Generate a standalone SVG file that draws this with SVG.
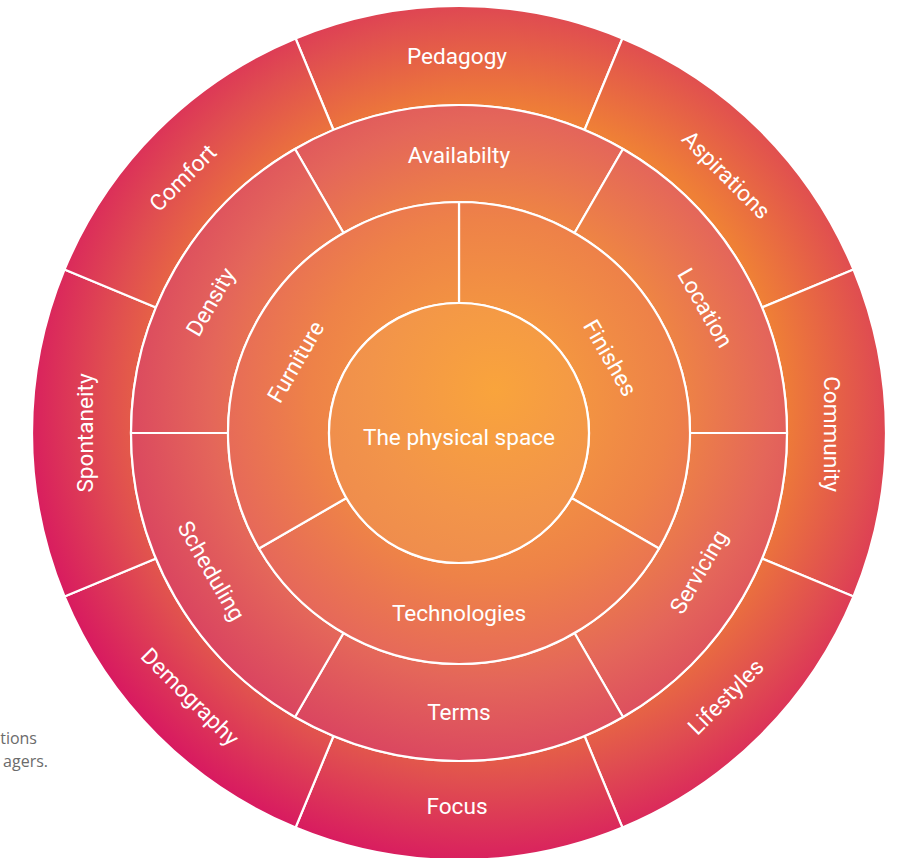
<svg xmlns="http://www.w3.org/2000/svg" width="898" height="858" viewBox="0 0 898 858">
<defs>
<radialGradient id="gOuter" gradientUnits="userSpaceOnUse" cx="490" cy="400" r="480">
<stop offset="0.6" stop-color="#EF8036"/>
<stop offset="0.8" stop-color="#E04E50"/>
<stop offset="0.98" stop-color="#D81A60"/>
</radialGradient>
<radialGradient id="gMiddle" gradientUnits="userSpaceOnUse" cx="490" cy="400" r="380">
<stop offset="0.45" stop-color="#F08A40"/>
<stop offset="0.74" stop-color="#E4665A"/>
<stop offset="0.98" stop-color="#DA4560"/>
</radialGradient>
<radialGradient id="gInner" gradientUnits="userSpaceOnUse" cx="490" cy="400" r="290">
<stop offset="0.25" stop-color="#F49840"/>
<stop offset="0.62" stop-color="#EE8248"/>
<stop offset="0.95" stop-color="#E6685A"/>
</radialGradient>
<radialGradient id="gCore" gradientUnits="userSpaceOnUse" cx="495" cy="390" r="210">
<stop offset="0" stop-color="#F9A43C"/>
<stop offset="0.6" stop-color="#F2944A"/>
<stop offset="1" stop-color="#EE8A4E"/>
</radialGradient>
</defs>
<style>
.seg{stroke:#FFFFFF;stroke-width:2.2;stroke-linejoin:round}
.o{fill:url(#gOuter)}
.m{fill:url(#gMiddle)}
.i{fill:url(#gInner)}
.c{fill:url(#gCore)}
.lbl{font-family:Roboto,"Liberation Sans",sans-serif;font-size:22.6px;fill:#FFFFFF;text-anchor:middle;dominant-baseline:central}
.note{font-family:"Open Sans","Liberation Sans",sans-serif;font-size:16px;fill:#6B6B6B;text-anchor:end}
</style>

<g id="outer-ring">
<g id="pedagogy"><path class="seg o" d="M295.60,38.50 A427,427 0 0 1 622.40,38.50 L584.52,129.97 A328,328 0 0 0 333.48,129.97 Z"/><text class="lbl" x="457" y="56">Pedagogy</text></g>
<g id="aspirations"><path class="seg o" d="M622.40,38.50 A427,427 0 0 1 853.50,269.60 L762.03,307.48 A328,328 0 0 0 584.52,129.97 Z"/><text class="lbl" transform="translate(726,175) rotate(45)">Aspirations</text></g>
<g id="community"><path class="seg o" d="M853.50,269.60 A427,427 0 0 1 853.50,596.40 L762.03,558.52 A328,328 0 0 0 762.03,307.48 Z"/><text class="lbl" transform="translate(831,434) rotate(90)">Community</text></g>
<g id="lifestyles"><path class="seg o" d="M853.50,596.40 A427,427 0 0 1 622.40,827.50 L584.52,736.03 A328,328 0 0 0 762.03,558.52 Z"/><text class="lbl" transform="translate(726,697) rotate(-45)">Lifestyles</text></g>
<g id="focus"><path class="seg o" d="M622.40,827.50 A427,427 0 0 1 295.60,827.50 L333.48,736.03 A328,328 0 0 0 584.52,736.03 Z"/><text class="lbl" x="457" y="806">Focus</text></g>
<g id="demography"><path class="seg o" d="M295.60,827.50 A427,427 0 0 1 64.50,596.40 L155.97,558.52 A328,328 0 0 0 333.48,736.03 Z"/><text class="lbl" transform="translate(190,697) rotate(45)">Demography</text></g>
<g id="spontaneity"><path class="seg o" d="M64.50,596.40 A427,427 0 0 1 64.50,269.60 L155.97,307.48 A328,328 0 0 0 155.97,558.52 Z"/><text class="lbl" transform="translate(85,433) rotate(-90)">Spontaneity</text></g>
<g id="comfort"><path class="seg o" d="M64.50,269.60 A427,427 0 0 1 295.60,38.50 L333.48,129.97 A328,328 0 0 0 155.97,307.48 Z"/><text class="lbl" transform="translate(183,178) rotate(-45)">Comfort</text></g>
</g>

<g id="middle-ring">
<g id="availability"><path class="seg m" d="M295,148.94 A328,328 0 0 1 623,148.94 L574.5,232.95 A231,231 0 0 0 343.5,232.95 Z"/><text class="lbl" x="459" y="155">Availabilty</text></g>
<g id="location"><path class="seg m" d="M623,148.94 A328,328 0 0 1 787,433 L690,433 A231,231 0 0 0 574.5,232.95 Z"/><text class="lbl" transform="translate(705,308) rotate(60)">Location</text></g>
<g id="servicing"><path class="seg m" d="M787,433 A328,328 0 0 1 623,717.06 L574.5,633.05 A231,231 0 0 0 690,433 Z"/><text class="lbl" transform="translate(699,572) rotate(-60)">Servicing</text></g>
<g id="terms"><path class="seg m" d="M623,717.06 A328,328 0 0 1 295,717.06 L343.5,633.05 A231,231 0 0 0 574.5,633.05 Z"/><text class="lbl" x="459" y="712">Terms</text></g>
<g id="scheduling"><path class="seg m" d="M295,717.06 A328,328 0 0 1 131,433 L228,433 A231,231 0 0 0 343.5,633.05 Z"/><text class="lbl" transform="translate(211,571) rotate(60)">Scheduling</text></g>
<g id="density"><path class="seg m" d="M131,433 A328,328 0 0 1 295,148.94 L343.5,232.95 A231,231 0 0 0 228,433 Z"/><text class="lbl" transform="translate(211,302) rotate(-60)">Density</text></g>
</g>

<g id="inner-ring">
<g id="finishes"><path class="seg i" d="M459,202 A231,231 0 0 1 659.05,548.5 L571.58,498 A130,130 0 0 0 459,303 Z"/><text class="lbl" transform="translate(610,358) rotate(60)">Finishes</text></g>
<g id="technologies"><path class="seg i" d="M659.05,548.5 A231,231 0 0 1 258.95,548.5 L346.42,498 A130,130 0 0 0 571.58,498 Z"/><text class="lbl" x="459" y="613">Technologies</text></g>
<g id="furniture"><path class="seg i" d="M258.95,548.5 A231,231 0 0 1 459,202 L459,303 A130,130 0 0 0 346.42,498 Z"/><text class="lbl" transform="translate(296,362) rotate(-60)">Furniture</text></g>
</g>

<g id="core">
<circle class="seg c" cx="459" cy="433" r="130"/>
<text class="lbl" x="459" y="437">The physical space</text>
</g>

<g id="connectors"/>

<g id="side-note">
<text class="note" x="37" y="744">tions</text>
<text class="note" x="48" y="767">agers.</text>
</g>
</svg>
